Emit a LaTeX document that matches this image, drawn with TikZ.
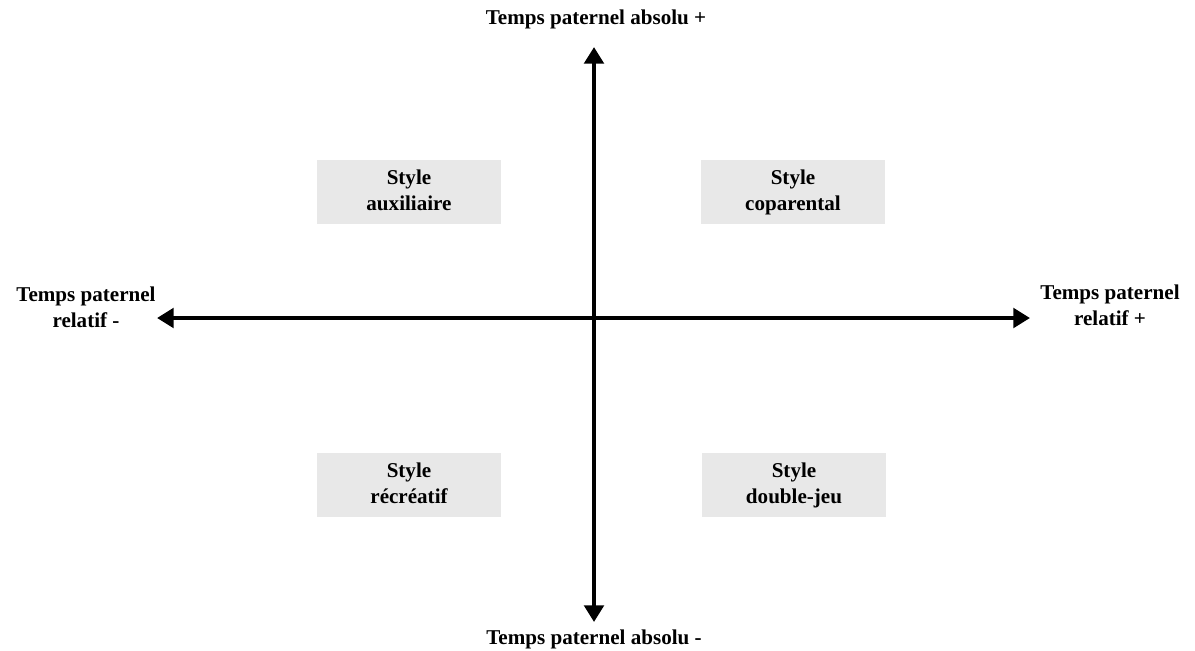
\documentclass[tikz,border=0pt]{standalone}
\usepackage{fontspec}
\setmainfont{Liberation Serif}
\usetikzlibrary{arrows.meta}
\begin{document}
\begin{tikzpicture}[x=0.02cm,y=-0.02cm,
  lbl/.style={font=\fontsize{12}{14.7}\selectfont\bfseries, align=center, inner sep=0pt},
  quad/.style={lbl, fill=gray!18, minimum width=3.68cm, minimum height=1.28cm},
  axis/.style={line width=2.8pt, {Triangle[length=9.5pt,width=11pt]}-{Triangle[length=9.5pt,width=11pt]}}]
\useasboundingbox (0,0) rectangle (1195,650);
\coordinate (top) at (594,47);
\coordinate (bot) at (594,622);
\coordinate (lft) at (157,318);
\coordinate (rgt) at (1030,318);
\draw[axis] (bot) -- (top);
\draw[axis] (lft) -- (rgt);
\node[lbl] (ltop) at (596,19) {Temps paternel absolu +};
\node[lbl] (lbot) at (594,639) {Temps paternel absolu -\strut};
\node[lbl] (lleft) at (86,311) {Temps paternel\\relatif -\strut};
\node[lbl] (lright) at (1110,309) {Temps paternel\\relatif +\strut};
\node[quad] (aux) at (409,192) {\strut Style\\auxiliaire\strut};
\node[quad] (copa) at (793,192) {\strut Style\\coparental\strut};
\node[quad] (recr) at (409,485) {\strut Style\\récréatif\strut};
\node[quad] (dbl) at (794,485) {\strut Style\\double-jeu\strut};
\end{tikzpicture}
\end{document}
